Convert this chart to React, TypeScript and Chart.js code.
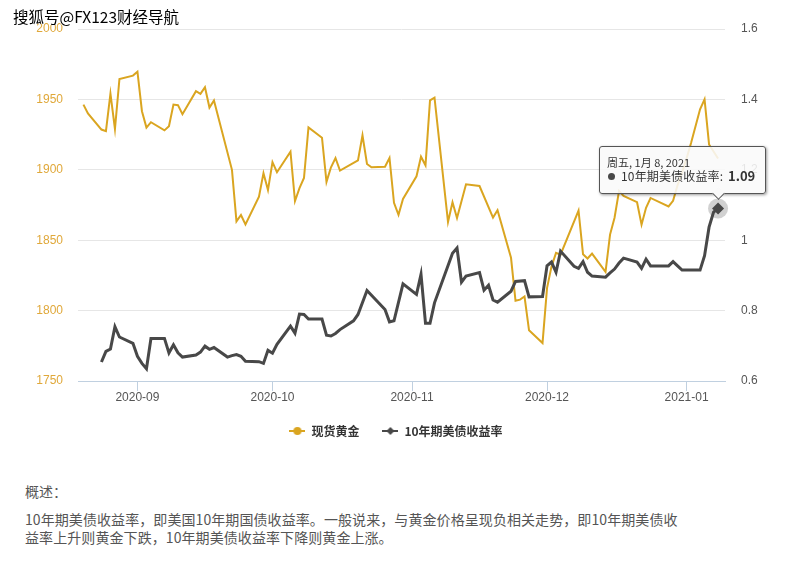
import React, { useEffect, useRef } from "react";
import { Chart, registerables } from "chart.js";

Chart.register(...registerables);

const goldDates = [
  "2020-08-20", "2020-08-21", "2020-08-24", "2020-08-25", "2020-08-26", "2020-08-27", "2020-08-28", "2020-08-31",
  "2020-09-01", "2020-09-02", "2020-09-03", "2020-09-04", "2020-09-07", "2020-09-08", "2020-09-09", "2020-09-10", "2020-09-11",
  "2020-09-14", "2020-09-15", "2020-09-16", "2020-09-17", "2020-09-18", "2020-09-22", "2020-09-23", "2020-09-24", "2020-09-25",
  "2020-09-28", "2020-09-29", "2020-09-30",
  "2020-10-01", "2020-10-02", "2020-10-05", "2020-10-06", "2020-10-07", "2020-10-08", "2020-10-09", "2020-10-12", "2020-10-13",
  "2020-10-14", "2020-10-15", "2020-10-16", "2020-10-20", "2020-10-21", "2020-10-22", "2020-10-23", "2020-10-26", "2020-10-27",
  "2020-10-28", "2020-10-29", "2020-10-30",
  "2020-11-02", "2020-11-03", "2020-11-04", "2020-11-05", "2020-11-06", "2020-11-09", "2020-11-10", "2020-11-11", "2020-11-13",
  "2020-11-16", "2020-11-19", "2020-11-20", "2020-11-23", "2020-11-24", "2020-11-25", "2020-11-26", "2020-11-27", "2020-11-30",
  "2020-12-01", "2020-12-02", "2020-12-03", "2020-12-04", "2020-12-08", "2020-12-09", "2020-12-10", "2020-12-11", "2020-12-14",
  "2020-12-15", "2020-12-16", "2020-12-17", "2020-12-18", "2020-12-21", "2020-12-22", "2020-12-23", "2020-12-24", "2020-12-28",
  "2020-12-29", "2020-12-30", "2020-12-31",
  "2021-01-01", "2021-01-02", "2021-01-04", "2021-01-05", "2021-01-06", "2021-01-08",
];
const goldValues = [
  1946.3, 1940, 1928.6, 1927.4, 1954.1, 1929, 1964.5, 1966.9,
  1969.7, 1941.6, 1930, 1933.8, 1928, 1931, 1946.3, 1945.9, 1939.5,
  1955.8, 1953.9, 1958.6, 1944.2, 1949.2, 1900, 1863.4, 1867.9, 1861.2,
  1880.9, 1897.6, 1885.6,
  1905.4, 1898.3, 1912.8, 1877.8, 1887, 1894.2, 1930.1, 1922.8, 1891.4,
  1901.8, 1908.4, 1899.4, 1906.7, 1924.5, 1904.1, 1901.8, 1902.2, 1908.4,
  1876.5, 1868, 1879.3,
  1895.4, 1909.3, 1903.2, 1949.3, 1951.2, 1863, 1877, 1865.8, 1889.7,
  1888.5, 1866.1, 1871.3, 1837.5, 1807, 1807.8, 1810, 1786, 1777,
  1816, 1831.4, 1841, 1839.7, 1871, 1840, 1837, 1840.5, 1827.5,
  1854, 1866, 1885, 1881.5, 1877, 1861, 1873, 1880, 1874,
  1878, 1889, 1898,
  1908, 1919, 1943, 1950, 1918, 1908,
];

const bondDates = [
  "2020-08-24", "2020-08-25", "2020-08-26", "2020-08-27", "2020-08-28", "2020-08-31",
  "2020-09-01", "2020-09-02", "2020-09-03", "2020-09-04", "2020-09-07", "2020-09-08", "2020-09-09", "2020-09-10", "2020-09-11",
  "2020-09-14", "2020-09-15", "2020-09-16", "2020-09-17", "2020-09-18", "2020-09-21", "2020-09-22", "2020-09-23", "2020-09-24",
  "2020-09-25", "2020-09-28", "2020-09-29", "2020-09-30",
  "2020-10-01", "2020-10-02", "2020-10-05", "2020-10-06", "2020-10-07", "2020-10-08", "2020-10-09", "2020-10-12", "2020-10-13",
  "2020-10-14", "2020-10-15", "2020-10-16", "2020-10-19", "2020-10-20", "2020-10-22", "2020-10-26", "2020-10-27", "2020-10-28",
  "2020-10-30",
  "2020-11-02", "2020-11-03", "2020-11-04", "2020-11-05", "2020-11-06", "2020-11-10", "2020-11-11", "2020-11-12", "2020-11-13",
  "2020-11-16", "2020-11-17", "2020-11-18", "2020-11-19", "2020-11-20", "2020-11-23", "2020-11-24", "2020-11-26", "2020-11-27",
  "2020-11-30",
  "2020-12-01", "2020-12-02", "2020-12-03", "2020-12-04", "2020-12-07", "2020-12-08", "2020-12-09", "2020-12-10", "2020-12-11",
  "2020-12-14", "2020-12-15", "2020-12-16", "2020-12-17", "2020-12-18", "2020-12-21", "2020-12-22", "2020-12-23", "2020-12-24",
  "2020-12-28", "2020-12-29", "2020-12-30", "2020-12-31",
  "2021-01-04", "2021-01-05", "2021-01-06", "2021-01-07", "2021-01-08",
];
const bondValues = [
  0.654, 0.684, 0.691, 0.754, 0.725, 0.707,
  0.67, 0.65, 0.635, 0.721, 0.721, 0.68, 0.703, 0.68, 0.668,
  0.674, 0.682, 0.699, 0.69, 0.695, 0.668, 0.672, 0.675, 0.67,
  0.656, 0.655, 0.65, 0.687,
  0.679, 0.704, 0.756, 0.736, 0.79, 0.789, 0.776, 0.776, 0.73,
  0.728, 0.735, 0.746, 0.771, 0.789, 0.857, 0.803, 0.768, 0.771,
  0.876,
  0.846, 0.903, 0.764, 0.764, 0.822, 0.963, 0.978, 0.881, 0.898,
  0.908, 0.858, 0.872, 0.83, 0.824, 0.855, 0.883, 0.885, 0.839,
  0.84,
  0.927, 0.938, 0.909, 0.969, 0.926, 0.92, 0.939, 0.909, 0.898,
  0.895, 0.907, 0.918, 0.935, 0.949, 0.938, 0.92, 0.946, 0.927,
  0.927, 0.939, 0.927, 0.915,
  0.915, 0.956, 1.037, 1.08, 1.09,
];

const monthTicks = ["2020-09-01", "2020-10-01", "2020-11-01", "2020-12-01", "2021-01-01"];
const goldTicks = [1750, 1800, 1850, 1900, 1950, 2000];
const bondTicks = [0.6, 0.8, 1, 1.2, 1.4, 1.6];

const GOLD = "#daa520";
const BOND = "#484848";
const LATIN = '"Liberation Sans", "Noto Sans CJK SC", sans-serif';
const CJK = '"Noto Sans CJK SC", sans-serif';

const xMin = Date.UTC(2020, 7, 18, 19);
const xMax = Date.UTC(2021, 0, 9, 13);
const WEEKDAYS = ["周日", "周一", "周二", "周三", "周四", "周五", "周六"];

const toPoints = (dates: string[], values: number[]) =>
  dates.map((d, i) => ({ x: Date.parse(d + "T00:00:00Z"), y: values[i] }));

// little line + marker swatch for the legend
const legendSwatch = (color: string, style: "circle" | "diamond") => {
  const c = document.createElement("canvas");
  c.width = 16;
  c.height = 10;
  const ctx = c.getContext("2d")!;
  ctx.fillStyle = color;
  ctx.fillRect(0, 4, 16, 2);
  ctx.beginPath();
  if (style === "circle") {
    ctx.arc(8, 5, 4, 0, Math.PI * 2);
  } else {
    ctx.moveTo(8, 1);
    ctx.lineTo(12, 5);
    ctx.lineTo(8, 9);
    ctx.lineTo(4, 5);
    ctx.closePath();
  }
  ctx.fill();
  return c;
};

// grey circle behind the active point
const haloPlugin = {
  id: "halo",
  beforeDatasetsDraw(chart: any) {
    const { ctx } = chart;
    chart.getActiveElements().forEach(({ element }: any) => {
      ctx.save();
      ctx.fillStyle = "rgba(72,72,72,0.25)";
      ctx.beginPath();
      ctx.arc(element.x, element.y, 10, 0, Math.PI * 2);
      ctx.fill();
      ctx.restore();
    });
  },
};

export default function App() {
  const canvasRef = useRef<HTMLCanvasElement | null>(null);
  const tipRef = useRef<HTMLDivElement | null>(null);
  const tipTitleRef = useRef<HTMLDivElement | null>(null);
  const tipLabelRef = useRef<HTMLSpanElement | null>(null);
  const tipValueRef = useRef<HTMLSpanElement | null>(null);

  useEffect(() => {
    if (!canvasRef.current) return;

    const chart = new Chart(canvasRef.current, {
      type: "line",
      data: {
        datasets: [
          {
            label: "现货黄金",
            data: toPoints(goldDates, goldValues),
            yAxisID: "y",
            borderColor: GOLD,
            backgroundColor: GOLD,
            borderWidth: 2,
            pointRadius: 0,
            order: 2,
          },
          {
            label: "10年期美债收益率",
            data: toPoints(bondDates, bondValues),
            yAxisID: "y1",
            borderColor: BOND,
            backgroundColor: BOND,
            borderWidth: 3,
            pointRadius: 0,
            pointStyle: "rectRot",
            pointHoverRadius: 6,
            pointHoverBorderWidth: 0,
            pointHoverBackgroundColor: BOND,
            order: 1,
          },
        ],
      },
      options: {
        animation: false,
        responsive: false,
        events: [],
        layout: { padding: { top: 29 } },
        scales: {
          x: {
            type: "linear",
            min: xMin,
            max: xMax,
            afterBuildTicks: (scale: any) => {
              scale.ticks = monthTicks.map((d) => ({ value: Date.parse(d + "T00:00:00Z") }));
            },
            afterFit: (scale: any) => {
              scale.height = 21;
            },
            grid: { drawOnChartArea: false, tickLength: 10, tickColor: "#c0d0e0", tickWidth: 1 },
            border: { color: "#c0d0e0", width: 1 },
            ticks: {
              autoSkip: false,
              maxRotation: 0,
              padding: -1,
              color: "#555555",
              font: { family: LATIN, size: 12 },
              callback: (v: any) => new Date(v).toISOString().slice(0, 7),
            },
          },
          y: {
            position: "left",
            min: 1750,
            max: 2000,
            afterBuildTicks: (scale: any) => {
              scale.ticks = goldTicks.map((value) => ({ value }));
            },
            afterFit: (scale: any) => {
              scale.width = 78;
            },
            grid: { color: "#e6e6e6", drawTicks: false },
            border: { display: false },
            ticks: {
              padding: 15,
              color: "#e0a83a",
              font: { family: LATIN, size: 12 },
              callback: (v: any) => String(v),
            },
          },
          y1: {
            position: "right",
            min: 0.6,
            max: 1.6,
            afterBuildTicks: (scale: any) => {
              scale.ticks = bondTicks.map((value) => ({ value }));
            },
            afterFit: (scale: any) => {
              scale.width = 67;
            },
            grid: { drawOnChartArea: false, drawTicks: false },
            border: { display: false },
            ticks: {
              padding: 16,
              color: "#555555",
              font: { family: LATIN, size: 12 },
              callback: (v: any) => String(v),
            },
          },
        },
        plugins: {
          legend: {
            position: "bottom",
            labels: {
              usePointStyle: true,
              pointStyleWidth: 16,
              padding: 23,
              color: "#333333",
              font: { family: CJK, size: 12, weight: "bold" },
              generateLabels: () => [
                { text: "现货黄金", pointStyle: legendSwatch(GOLD, "circle"), datasetIndex: 0, fontColor: "#333333", lineWidth: 0 },
                { text: "10年期美债收益率", pointStyle: legendSwatch(BOND, "diamond"), datasetIndex: 1, fontColor: "#333333", lineWidth: 0 },
              ],
            },
          },
          tooltip: {
            enabled: false,
            external: ({ tooltip }: any) => {
              const tip = tipRef.current;
              if (!tip || !tooltip.dataPoints?.length) return;
              const item = tooltip.dataPoints[0];
              const d = new Date(item.parsed.x);
              tipTitleRef.current!.textContent = `${WEEKDAYS[d.getUTCDay()]}, ${d.getUTCMonth() + 1}月 ${d.getUTCDate()}, ${d.getUTCFullYear()}`;
              tipLabelRef.current!.textContent = `${item.dataset.label}: `;
              tipValueRef.current!.textContent = String(item.parsed.y);
              tip.style.display = "block";
              tip.style.left = `${tooltip.caretX - 119}px`;
              tip.style.top = `${tooltip.caretY - 63}px`;
            },
          },
        },
      },
      plugins: [haloPlugin],
    } as any);

    const active = [{ datasetIndex: 1, index: bondValues.length - 1 }];
    chart.setActiveElements(active);
    chart.tooltip!.setActiveElements(active, { x: 0, y: 0 });
    chart.update();

    return () => {
      chart.destroy();
    };
  }, []);

  return (
    <div style={{ position: "absolute", left: 0, top: 0, width: 799, height: 572, overflow: "hidden", background: "#fff" }}>
      <canvas ref={canvasRef} width={792} height={447} style={{ position: "absolute", left: 0, top: 0 }} />

      <div
        ref={tipRef}
        style={{
          display: "none",
          position: "absolute",
          width: 167,
          height: 48,
          boxSizing: "border-box",
          background: "rgba(249,249,249,0.88)",
          border: "1px solid #555",
          borderRadius: 3,
          boxShadow: "1px 1px 3px rgba(0,0,0,0.4)",
          padding: "8px 7px",
          color: "#333",
          fontFamily: CJK,
          whiteSpace: "nowrap",
        }}
      >
        <div ref={tipTitleRef} style={{ fontSize: 11, lineHeight: "14px" }} />
        <div style={{ fontSize: 12, lineHeight: "14px" }}>
          <span
            style={{
              display: "inline-block",
              width: 7,
              height: 7,
              borderRadius: "50%",
              background: BOND,
              marginLeft: 1,
              marginRight: 6,
              verticalAlign: "1px",
            }}
          />
          <span ref={tipLabelRef} style={{ letterSpacing: 0.15 }} />
          <span ref={tipValueRef} style={{ fontWeight: "bold", fontSize: 13, marginLeft: 2 }} />
        </div>
        <div
          style={{
            position: "absolute",
            left: 114,
            bottom: -5,
            width: 8,
            height: 8,
            background: "#f9f9f9",
            borderRight: "1px solid #555",
            borderBottom: "1px solid #555",
            transform: "rotate(45deg)",
          }}
        />
      </div>

      <div
        style={{
          position: "absolute",
          left: 13,
          top: 6,
          fontFamily: CJK,
          fontSize: 15.5,
          lineHeight: "20px",
          color: "#000",
          textShadow: "1px 0 0 #fff, -1px 0 0 #fff, 0 -1px 0 #fff",
          whiteSpace: "nowrap",
        }}
      >
        搜狐号@FX123财经导航
      </div>

      <div style={{ position: "absolute", left: 25, top: 482, fontFamily: CJK, fontSize: 14, lineHeight: "18px", color: "#555", whiteSpace: "nowrap" }}>
        概述：
      </div>
      <div style={{ position: "absolute", left: 25, top: 510, fontFamily: CJK, fontSize: 14, lineHeight: "18px", letterSpacing: 0.08, color: "#555", whiteSpace: "nowrap" }}>
        10年期美债收益率，即美国10年期国债收益率。一般说来，与黄金价格呈现负相关走势，即10年期美债收
        <br />
        益率上升则黄金下跌，10年期美债收益率下降则黄金上涨。
      </div>
    </div>
  );
}
